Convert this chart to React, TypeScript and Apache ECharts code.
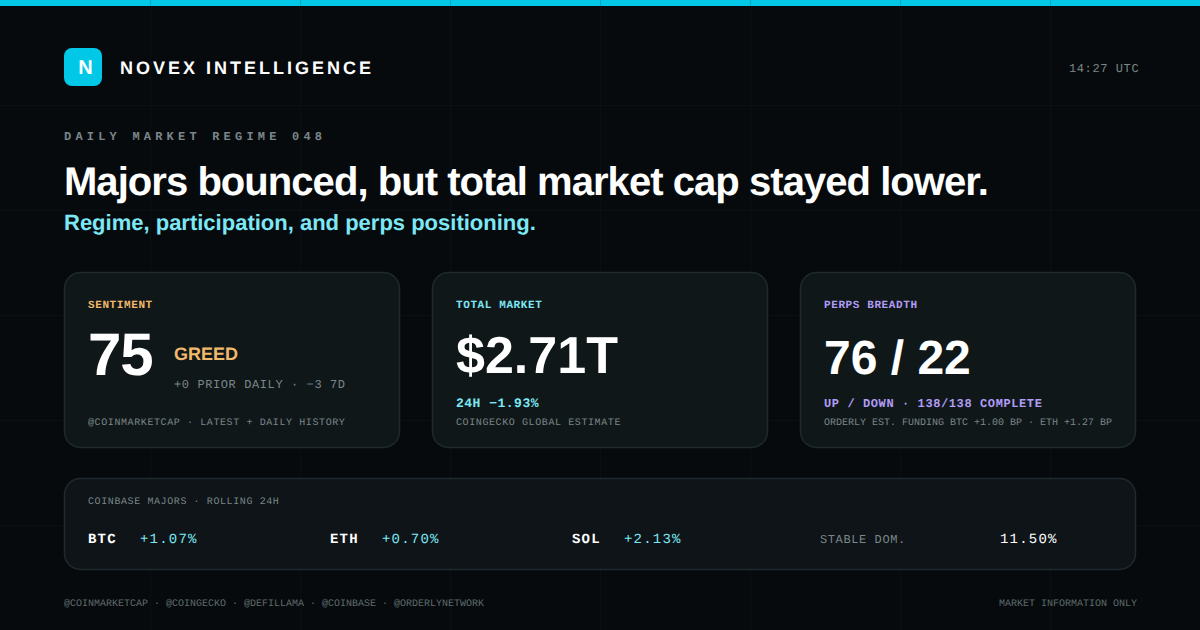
import React, { useEffect, useRef } from "react";
import * as echarts from "echarts";

const SANS = '"Liberation Sans", Arial, sans-serif';
const MONO = '"Liberation Mono", monospace';

const brand = ["N", "NOVEX INTELLIGENCE", "14:27 UTC"];
const heading = ["DAILY MARKET REGIME 048", "Majors bounced, but total market cap stayed lower.", "Regime, participation, and perps positioning."];
const sentiment = ["SENTIMENT", "75", "GREED", "+0 PRIOR DAILY · −3 7D", "@COINMARKETCAP · LATEST + DAILY HISTORY"];
const totalMarket = ["TOTAL MARKET", "$2.71T", "24H −1.93%", "COINGECKO GLOBAL ESTIMATE"];
const perps = ["PERPS BREADTH", "76 / 22", "UP / DOWN · 138/138 COMPLETE", "ORDERLY EST. FUNDING BTC +1.00 BP · ETH +1.27 BP"];
const majorsTitle = "COINBASE MAJORS · ROLLING 24H";
const majorNames = ["BTC", "ETH", "SOL"];
const majorMoves = ["+1.07%", "+0.70%", "+2.13%"];
const stable = ["STABLE DOM.", "11.50%"];
const footer = ["@COINMARKETCAP · @COINGECKO · @DEFILLAMA · @COINBASE · @ORDERLYNETWORK", "MARKET INFORMATION ONLY"];

const CYAN = "#00c8e6";
const AQUA = "#7de8f5";
const AMBER = "#f0b96b";
const VIOLET = "#b09cf5";
const GREY = "#7a8689";
const WHITE = "#ffffff";
const BG = "#060a0c";

export default function App() {
  const ref = useRef<HTMLDivElement>(null);
  useEffect(() => {
    document.body.style.margin = "0";
    document.body.style.background = BG;
    const chart = echarts.init(ref.current!, null, { renderer: "svg" });
    const spacing: Record<string, number> = {};
    const els: any[] = [];

    const t = (text: string, x: number, y: number, size: number, color: string, font: string, weight: any, ls = 0, align = "left") => {
      spacing[text] = ls;
      els.push({
        type: "text", x, y, silent: true,
        style: { text, fill: color, fontFamily: font, fontSize: size, fontWeight: weight, align, verticalAlign: "middle" },
      });
    };
    const card = (x: number, y: number, w: number, h: number, r: number, fill: string) => {
      els.push({
        type: "rect", silent: true,
        shape: { x: x + 0.5, y: y + 0.5, width: w - 1, height: h - 1, r },
        style: { fill, stroke: "#1f2a2e", lineWidth: 1.5 },
      });
    };

    els.push({ type: "rect", silent: true, shape: { x: 0, y: 0, width: 1200, height: 6 }, style: { fill: CYAN } });
    const gridColor = "rgba(20,40,45,0.22)";
    for (let x = 150; x < 1200; x += 150) {
      els.push({ type: "line", silent: true, shape: { x1: x + 0.5, y1: 0, x2: x + 0.5, y2: 630 }, style: { stroke: gridColor, lineWidth: 1 } });
    }
    for (let y = 105; y < 630; y += 105) {
      els.push({ type: "line", silent: true, shape: { x1: 0, y1: y + 0.5, x2: 1200, y2: y + 0.5 }, style: { stroke: gridColor, lineWidth: 1 } });
    }

    els.push({ type: "rect", silent: true, shape: { x: 64, y: 48, width: 38, height: 38, r: 8 }, style: { fill: CYAN } });
    t(brand[0], 85.5, 67.5, 20, WHITE, SANS, 700, 0, "center");
    t(brand[1], 120, 68.4, 18, WHITE, SANS, 700, 3);
    t(brand[2], 1069, 68.6, 12, GREY, MONO, 400, 0.6);

    t(heading[0], 64, 136.6, 12, GREY, MONO, 700, 4.2);
    t(heading[1], 64, 181.7, 40, WHITE, SANS, 700, -0.95);
    t(heading[2], 64, 222, 22, AQUA, SANS, 700);

    card(64, 272, 336, 176, 16, "#101719");
    t(sentiment[0], 88, 306, 11, AMBER, MONO, 700, 0.6);
    t(sentiment[1], 88, 354, 60, WHITE, SANS, 700, -1.2);
    t(sentiment[2], 174, 354, 18, AMBER, SANS, 700);
    t(sentiment[3], 174, 384.6, 12, GREY, MONO, 400, 0.6);
    t(sentiment[4], 88, 423.5, 10, GREY, MONO, 400, 0.6);

    card(432, 272, 336, 176, 16, "#101719");
    t(totalMarket[0], 456, 306, 11, AQUA, MONO, 700, 0.6);
    t(totalMarket[1], 456, 356, 52, WHITE, SANS, 700);
    t(totalMarket[2], 456, 403, 13, AQUA, MONO, 700, 0.5);
    t(totalMarket[3], 456, 423.5, 10, GREY, MONO, 400, 0.6);

    card(800, 272, 336, 176, 16, "#101719");
    t(perps[0], 824, 306, 11, VIOLET, MONO, 700, 0.6);
    t(perps[1], 824, 358, 48, WHITE, SANS, 700);
    t(perps[2], 824, 403.6, 12, VIOLET, MONO, 700, 0.6);
    t(perps[3], 824, 423.5, 10, GREY, MONO, 400);

    card(64, 478, 1072, 92, 16, "#0e1417");
    t(majorsTitle, 88, 502.5, 10, GREY, MONO, 400, 0.6);
    const nameX = [88, 330, 572];
    const moveX = [140, 382, 624];
    majorNames.forEach((n, i) => {
      t(n, nameX[i], 539.7, 14, WHITE, MONO, 700, 1.2);
      t(majorMoves[i], moveX[i], 539.7, 14, AQUA, MONO, 400, 1.2);
    });
    t(stable[0], 820, 540, 12, GREY, MONO, 400, 0.6);
    t(stable[1], 1000, 539.7, 14, WHITE, MONO, 400, 1.2);

    t(footer[0], 64, 604.5, 10, "#5f6a6d", MONO, 400);
    t(footer[1], 999, 604.5, 10, "#5f6a6d", MONO, 400);

    chart.setOption({ animation: false, backgroundColor: BG, graphic: { elements: els } });

    ref.current!.querySelectorAll("text").forEach((n) => {
      n.setAttribute("text-rendering", "geometricPrecision");
      const ls = spacing[n.textContent || ""];
      if (ls) n.setAttribute("letter-spacing", String(ls));
    });
    return () => chart.dispose();
  }, []);
  return <div ref={ref} style={{ position: "absolute", left: 0, top: 0, width: 1200, height: 630 }} />;
}
